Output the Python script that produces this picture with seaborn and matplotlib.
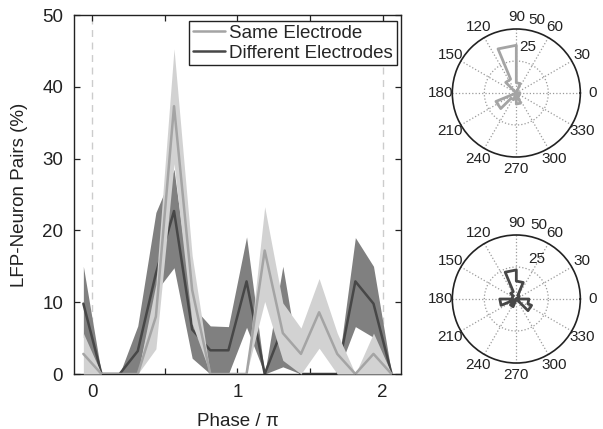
import numpy as np
import pandas as pd
import matplotlib
matplotlib.use("Agg")
import matplotlib.pyplot as plt
import seaborn as sns

# Percentage of LFP-neuron pairs per phase bin (16 bins of width pi/8, starting at 0)
same_mean = [0, 0, 0, 8.0, 37.3, 11.7, 0, 0, 0, 17.2, 5.7, 2.8, 8.6, 2.8, 0, 2.8]
same_upper = [0, 0, 0, 12.5, 45.3, 16.5, 0, 0, 0, 23.3, 9.9, 6.4, 13.3, 5.7, 0, 5.7]
same_lower = [0, 0, 0, 3.5, 29.3, 7.0, 0, 0, 0, 10.1, 1.9, 0, 3.6, 0, 0, 0]

diff_mean = [0, 0, 3.2, 14.0, 22.7, 6.2, 3.3, 3.3, 12.9, 0, 6.5, 0, 0, 0, 12.9, 9.8]
diff_upper = [0, 0, 6.7, 22.5, 28.5, 9.5, 6.7, 6.6, 19.1, 0, 15.0, 0, 0, 0, 19.0, 15.0]
diff_lower = [0, 0, 0, 11.5, 14.8, 2.2, 0, 0, 6.5, 0, 1.0, 0, 0, 0, 6.6, 5.1]

series_names = ["Same Electrode", "Different Electrodes"]
x_ticks = [0, 0.5, 1, 1.5, 2]
x_ticklabels = ["0", "", "1", "", "2"]
y_ticks = [0, 10, 20, 30, 40, 50]
angle_labels = [0, 30, 60, 90, 120, 150, 180, 210, 240, 270, 300, 330]

n_bins = len(same_mean)
bin_width = 2.0 / n_bins
centers = (np.arange(n_bins) + 0.5) * bin_width


def wrap(vals):
    """Extend a circular series by one bin on each side."""
    vals = list(vals)
    return np.array([vals[-1]] + vals + [vals[0]])


phase = np.concatenate([[centers[-1] - 2], centers, [centers[0] + 2]])

df = pd.concat([
    pd.DataFrame({"phase": phase, "pct": wrap(same_mean), "lo": wrap(same_lower),
                  "hi": wrap(same_upper), "series": series_names[0]}),
    pd.DataFrame({"phase": phase, "pct": wrap(diff_mean), "lo": wrap(diff_lower),
                  "hi": wrap(diff_upper), "series": series_names[1]}),
], ignore_index=True)

sns.set_style("ticks")
plt.rcParams["font.family"] = ["Liberation Sans", "DejaVu Sans"]

light_band, light_line = "#d2d2d2", "#a4a4a4"
dark_band, dark_line = "#808080", "#474747"
axis_col = "#222222"
main_fs = 13.5
polar_fs = 11

fig = plt.figure(figsize=(6.03, 4.29), dpi=100)
ax = fig.add_axes([0.1232, 0.1282, 0.5413, 0.8368])

ax.axvline(0, color="#cccccc", ls=(0, (5, 4)), lw=1, zorder=0)
ax.axvline(2, color="#cccccc", ls=(0, (5, 4)), lw=1, zorder=0)

d = df[df.series == series_names[1]]
s = df[df.series == series_names[0]]
ax.fill_between(d.phase, d.lo, d.hi, color=dark_band, lw=0, zorder=1)
sns.lineplot(data=d, x="phase", y="pct", color=dark_line, lw=1.8, ax=ax,
             label=series_names[1], zorder=2)
ax.fill_between(s.phase, s.lo, s.hi, color=light_band, lw=0, zorder=3)
sns.lineplot(data=s, x="phase", y="pct", color=light_line, lw=1.8, ax=ax,
             label=series_names[0], zorder=4)

ax.set_xlim(-0.125, 2.125)
ax.set_ylim(0, 50)
ax.set_xticks(x_ticks)
ax.set_xticklabels(x_ticklabels)
ax.set_yticks(y_ticks)
ax.tick_params(direction="in", length=4, width=0.9, top=True, right=True,
               labelsize=main_fs, colors=axis_col)
ax.tick_params(axis="x", pad=7)
ax.tick_params(axis="y", pad=8)
for sp in ax.spines.values():
    sp.set_visible(True)
    sp.set_linewidth(1.0)
    sp.set_color(axis_col)

ax.set_xlabel("Phase / π", fontsize=main_fs, color=axis_col)
ax.set_ylabel("LFP-Neuron Pairs (%)", fontsize=main_fs, color=axis_col)
ax.xaxis.set_label_coords(0.5, -0.108)
ax.yaxis.set_label_coords(-0.141, 0.5)

handles, labels = ax.get_legend_handles_labels()
order = [labels.index(n) for n in series_names]
leg = ax.legend([handles[i] for i in order], [labels[i] for i in order],
                loc="upper right", bbox_to_anchor=(0.988, 0.984), borderaxespad=0,
                fontsize=main_fs, frameon=True, fancybox=False, framealpha=1,
                edgecolor=axis_col, handlelength=1.7, handletextpad=0.25,
                borderpad=0.2, labelspacing=0.15)
leg.get_frame().set_linewidth(1.0)


def rose(axp, values, color):
    edges = np.deg2rad(np.arange(n_bins + 1) * 360.0 / n_bins)
    th, rr = [], []
    for j, v in enumerate(values):
        th += [edges[j], edges[j + 1]]
        rr += [v, v]
    th.append(th[0])
    rr.append(rr[0])
    pdf = pd.DataFrame({"theta": th, "r": rr})
    sns.lineplot(data=pdf, x="theta", y="r", sort=False, estimator=None,
                 color=color, lw=2.0, ax=axp, zorder=3)

    circ = np.linspace(0, 2 * np.pi, 200)
    axp.plot(circ, np.full_like(circ, 25), ls=":", color="#9a9a9a", lw=0.9, zorder=1)
    for a in angle_labels:
        axp.plot([np.deg2rad(a)] * 2, [0, 50], ls=":", color="#9a9a9a", lw=0.9, zorder=1)
        axp.text(np.deg2rad(a), 59.5, str(a), ha="center", va="center",
                 fontsize=polar_fs, color=axis_col, clip_on=False)
    axp.set_rlim(0, 50)
    axp.set_xticks([])
    axp.set_yticks([])
    axp.grid(False)
    axp.set_xlabel("")
    axp.set_ylabel("")
    axp.spines["polar"].set_linewidth(1.2)
    axp.spines["polar"].set_color(axis_col)


ax_top = fig.add_axes([0.7501, 0.634, 0.2123, 0.2984], projection="polar")
rose(ax_top, same_mean, light_line)
ax_top.text(np.deg2rad(74.4), 59.6, "50", ha="center", va="center", fontsize=polar_fs,
            color=axis_col, clip_on=False)
ax_top.text(np.deg2rad(76.3), 36.8, "25", ha="center", va="center", fontsize=polar_fs,
            color=axis_col, clip_on=False)

ax_bot = fig.add_axes([0.7501, 0.1538, 0.2123, 0.2984], projection="polar")
rose(ax_bot, diff_mean, dark_line)
ax_bot.text(np.deg2rad(73.2), 60, "50", ha="center", va="center", fontsize=polar_fs,
            color=axis_col, clip_on=False)
ax_bot.text(np.deg2rad(63.4), 34.8, "25", ha="center", va="center", fontsize=polar_fs,
            color=axis_col, clip_on=False)

fig.savefig("out.png", dpi=100)
